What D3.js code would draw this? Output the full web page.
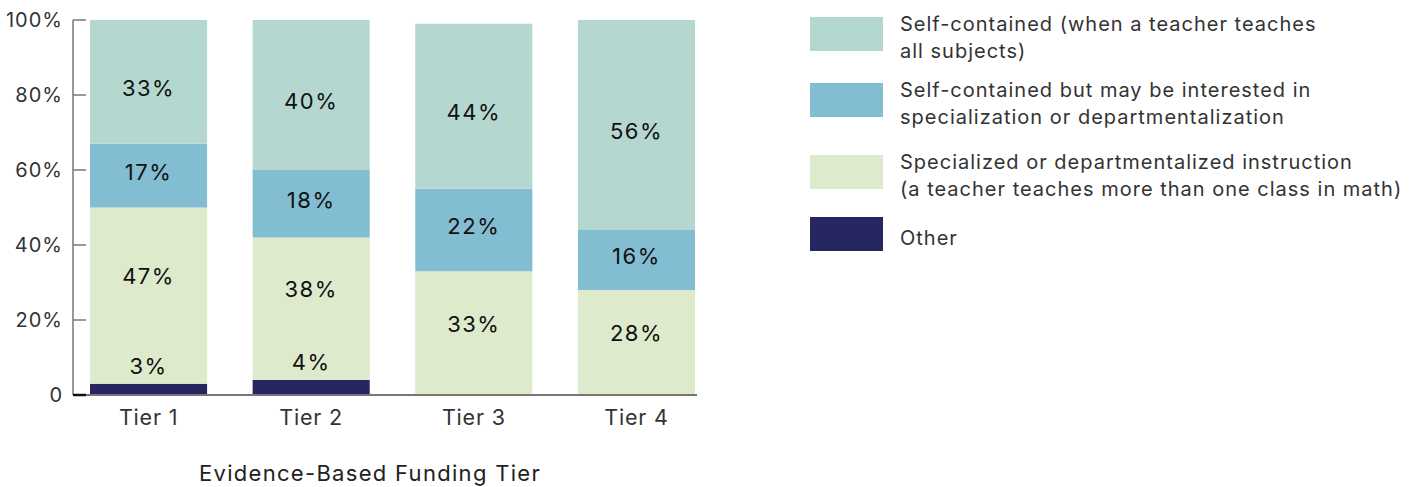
<!DOCTYPE html>
<html>
<head>
<meta charset="utf-8">
<script src="https://cdn.jsdelivr.net/npm/d3@7"></script>
<style>
  html, body { margin: 0; padding: 0; background: #fff; }
  svg { display: block; font-family: Inter, "Open Sans", sans-serif; }
</style>
</head>
<body>
<svg id="chart" width="1413" height="487"></svg>
<script>
// Evidence-Based Funding tiers
const tiers = ["Tier 1", "Tier 2", "Tier 3", "Tier 4"];

// Series, stacked bottom to top
const seriesKeys = ["other", "specialized", "interested", "selfContained"];
const other         = [3, 4, 0, 0];
const specialized   = [47, 38, 33, 28];
const interested    = [17, 18, 22, 16];
const selfContained = [33, 40, 44, 56];

const yTicks = [0, 20, 40, 60, 80, 100];
const yTickLabels = ["0", "20%", "40%", "60%", "80%", "100%"];

const legendLabels = [
  ["Self-contained (when a teacher teaches", "all subjects)"],
  ["Self-contained but may be interested in", "specialization or departmentalization"],
  ["Specialized or departmentalized instruction", "(a teacher teaches more than one class in math)"],
  ["Other"]
];
const legendOrder = ["selfContained", "interested", "specialized", "other"];

const colors = {
  selfContained: "#b4d8cf",
  interested: "#82bdd1",
  specialized: "#deeacc",
  other: "#282660"
};

const valuesByKey = { other, specialized, interested, selfContained };
const rows = tiers.map((t, i) => {
  const r = { tier: t };
  seriesKeys.forEach(k => r[k] = valuesByKey[k][i]);
  return r;
});

const svg = d3.select("#chart");

const x = d3.scaleBand().domain(tiers).range([90, 695]).paddingInner(0.28).paddingOuter(0);
const y = d3.scaleLinear().domain([0, 100]).range([395, 20]);

const stack = d3.stack().keys(seriesKeys)(rows);

// Bars
const layers = svg.append("g").selectAll("g")
  .data(stack).join("g")
  .attr("fill", d => colors[d.key]);

layers.selectAll("rect")
  .data(d => d.map(v => ({ v, key: d.key })))
  .join("rect")
  .attr("x", d => x(d.v.data.tier))
  .attr("width", x.bandwidth())
  .attr("y", d => y(d.v[1]))
  .attr("height", d => y(d.v[0]) - y(d.v[1]));

// Y axis
const yAxisG = svg.append("g").attr("transform", "translate(73,0)");
yAxisG.append("line")
  .attr("x1", 0).attr("x2", 0)
  .attr("y1", y(100)).attr("y2", y(0))
  .attr("stroke", "#777").attr("stroke-width", 1.5);
yAxisG.selectAll("line.tick")
  .data(yTicks).join("line")
  .attr("class", "tick")
  .attr("x1", 0).attr("x2", 13)
  .attr("y1", d => y(d)).attr("y2", d => y(d))
  .attr("stroke", d => d === 0 ? "#111" : "#777")
  .attr("stroke-width", d => d === 0 ? 2.5 : 1.5);
yAxisG.selectAll("text")
  .data(yTicks).join("text")
  .attr("x", -10)
  .attr("y", d => y(d))
  .attr("dy", "0.36em")
  .attr("text-anchor", "end")
  .attr("font-size", 20)
  .attr("letter-spacing", 1)
  .attr("fill", "#333")
  .text((d, i) => yTickLabels[i]);

// X axis
const xAxis = d3.axisBottom(x).tickSize(0).tickPadding(15);
const xAxisG = svg.append("g").attr("transform", `translate(0,${y(0)})`).call(xAxis);
xAxisG.select(".domain").remove();
xAxisG.insert("line", ":first-child")
  .attr("x1", 86).attr("x2", 697)
  .attr("y1", 0).attr("y2", 0)
  .attr("stroke", "#777").attr("stroke-width", 2);
xAxisG.selectAll("text")
  .attr("font-size", 21.5)
  .attr("letter-spacing", 0.8)
  .attr("font-family", "Inter, 'Open Sans', sans-serif")
  .attr("fill", "#333");

svg.append("text")
  .attr("x", 370)
  .attr("y", 473)
  .attr("dy", "0.36em")
  .attr("text-anchor", "middle")
  .attr("font-size", 22)
  .attr("letter-spacing", 1.3)
  .attr("fill", "#222")
  .text("Evidence-Based Funding Tier");

// Value labels: centred in each segment, with a small nudge per series
const nudge = { selfContained: 6, interested: -4, specialized: -9, other: 0 };
const labelData = [];
stack.forEach(layer => {
  layer.forEach(v => {
    const val = v[1] - v[0];
    if (val <= 0) return;
    const cx = x(v.data.tier) + x.bandwidth() / 2;
    let cy;
    if (layer.key === "other") {
      cy = y(v[1]) - 18;
    } else if (layer.key === "specialized" && v.data.other > 0) {
      const top = y(v[1]);
      const bottom = y(v.data.other) - 30;
      cy = (top + bottom) / 2 - 5;
    } else {
      cy = (y(v[0]) + y(v[1])) / 2 + nudge[layer.key];
    }
    labelData.push({ cx, cy, text: val + "%" });
  });
});

svg.append("g").selectAll("text")
  .data(labelData).join("text")
  .attr("x", d => d.cx)
  .attr("y", d => d.cy)
  .attr("dy", "0.36em")
  .attr("text-anchor", "middle")
  .attr("font-size", 22)
  .attr("letter-spacing", 1.5)
  .attr("fill", "#111")
  .text(d => d.text);

// Legend
const defs = svg.append("defs");
defs.append("filter").attr("id", "soft")
  .append("feGaussianBlur").attr("stdDeviation", 0.7);

const legendTops = [17, 83, 155, 217];
const legend = svg.append("g");
legendOrder.forEach((k, i) => {
  const g = legend.append("g").attr("transform", `translate(810,${legendTops[i]})`);
  g.append("rect")
    .attr("width", 73).attr("height", 34)
    .attr("fill", colors[k])
    .attr("filter", "url(#soft)");
  const lines = legendLabels[i];
  const firstY = lines.length === 1 ? 21 : 7;
  lines.forEach((ln, j) => {
    g.append("text")
      .attr("x", 90)
      .attr("y", firstY + j * 27)
      .attr("dy", "0.36em")
      .attr("font-size", 20)
      .attr("letter-spacing", 1)
      .attr("fill", "#333")
      .text(ln);
  });
});
</script>
</body>
</html>
